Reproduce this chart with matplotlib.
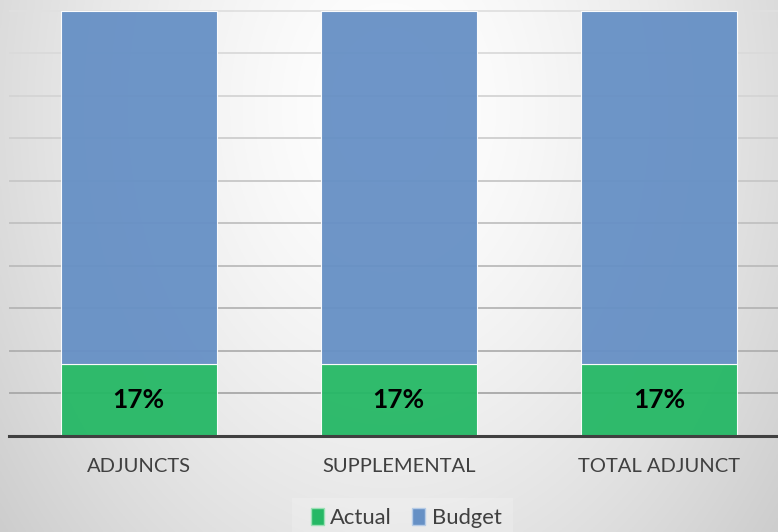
import numpy as np
import matplotlib.pyplot as plt
from matplotlib.patches import Patch, Rectangle

categories = ['ADJUNCTS', 'SUPPLEMENTAL', 'TOTAL ADJUNCT']
actual = [0.17, 0.17, 0.17]
budget = [0.83, 0.83, 0.83]
labels = ['17%', '17%', '17%']

green = '#25b865'
blue = '#6690c5'

plt.rcParams['font.family'] = ['Lato', 'DejaVu Sans']

fig = plt.figure(figsize=(7.78, 5.32), dpi=100)

# soft radial gray gradient behind everything
bg = fig.add_axes([0, 0, 1, 1], zorder=-10)
xx, yy = np.meshgrid(np.linspace(0, 1, 400), np.linspace(0, 1, 300))
d = np.sqrt(((xx - 0.5) / 0.5) ** 2 + ((yy - 0.8) / 1.0) ** 2)
shade = 1.0 - 0.135 * d ** 1.5
bg.imshow(np.dstack([shade] * 3), extent=[0, 1, 0, 1], origin='lower', aspect='auto')
bg.add_patch(Rectangle((292 / 778, 0), 221 / 778, 34 / 532, transform=bg.transAxes,
                       facecolor='white', alpha=0.18, edgecolor='none'))
bg.set_xlim(0, 1)
bg.set_ylim(0, 1)
bg.axis('off')

ax = fig.add_axes([9 / 778, 1 - 436 / 532, 1 - 9 / 778, 436 / 532])
ax.patch.set_alpha(0)
x = np.arange(len(categories))

# gridlines get darker toward the bottom
grid_y = np.arange(0.1, 1.01, 0.1)
for i, gy in enumerate(grid_y):
    g = 0.66 + 0.22 * i / (len(grid_y) - 1)
    ax.axhline(gy, color=(g, g, g), linewidth=1.3, zorder=1)

ax.bar(x, actual, 0.6, color=green, alpha=0.95, edgecolor='white', linewidth=0.8, zorder=3)
ax.bar(x, budget, 0.6, bottom=actual, color=blue, alpha=0.95, edgecolor='white', linewidth=0.8, zorder=3)
for i in range(len(x)):
    ax.text(x[i], actual[i] / 2, labels[i], ha='center', va='center',
            fontsize=19, fontweight='bold', color='black', zorder=5)

ax.set_xlim(-0.498, 2.458)
ax.set_ylim(0, 436 / 425.5)
ax.set_yticks([])
ax.tick_params(axis='x', length=0, pad=16, labelsize=14.5, labelcolor='#404040')
ax.set_xticks(x)
ax.set_xticklabels(categories)
for s in ['top', 'right', 'left']:
    ax.spines[s].set_visible(False)
ax.spines['bottom'].set_color('#404040')
ax.spines['bottom'].set_linewidth(2.2)
ax.spines['bottom'].set_zorder(6)

handles = [Patch(facecolor=green, edgecolor='#9be0b5', label='Actual'),
           Patch(facecolor=blue, edgecolor='#b5cbe6', label='Budget')]
fig.legend(handles=handles, loc='center', bbox_to_anchor=(406 / 778, 1 - 518 / 532),
           ncol=2, frameon=False, fontsize=15.8, handlelength=0.6, handleheight=0.8,
           handletextpad=0.3, columnspacing=0.9, labelcolor='#404040')

fig.savefig('out.png', dpi=100)
